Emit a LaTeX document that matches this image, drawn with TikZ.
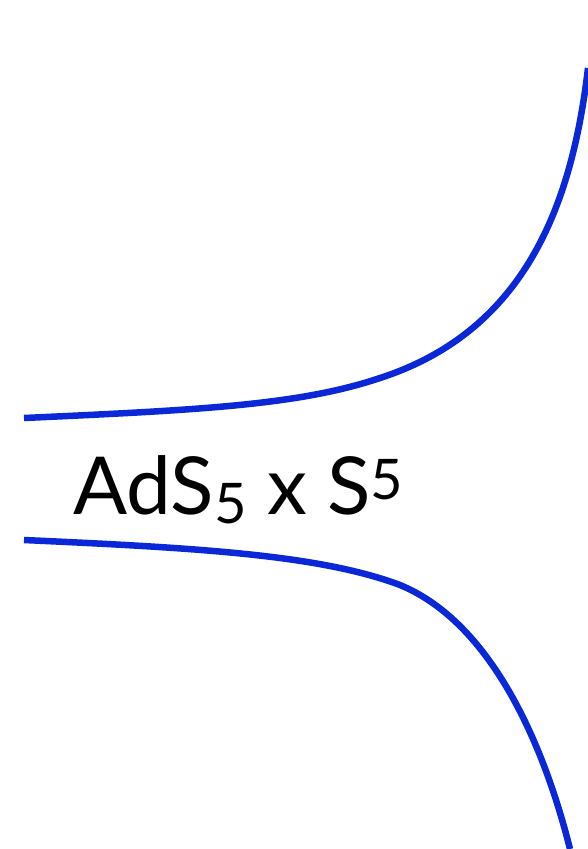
\documentclass[tikz,border=0pt]{standalone}
\usepackage{fontspec}
\setmainfont{Lato}
\definecolor{curveblue}{HTML}{0A28D8}
\begin{document}
\begin{tikzpicture}[x=1pt,y=-1pt,
  curve/.style={draw=curveblue,line width=6.5pt},
  label/.style={inner sep=0pt,anchor=base west,font=\fontsize{80}{90}\selectfont}]
\useasboundingbox (0,0) rectangle (588,849);
\coordinate (u0) at (24,418);
\coordinate (u1) at (380,378);
\coordinate (u2) at (588,68);
\coordinate (l0) at (24,540);
\coordinate (l1) at (400,585);
\coordinate (l2) at (570,849);
\draw[curve] (u0) .. controls (200,410) and (300,405) .. (u1)
  .. controls (525,331) and (572,205) .. (u2);
\draw[curve] (l0) .. controls (200,548) and (320,555) .. (l1)
  .. controls (485,620) and (540,730) .. (l2);
\node[label] (t) at (73,514) {AdS\raisebox{-9pt}{\fontsize{56}{60}\selectfont 5} x S\raisebox{15pt}{\fontsize{56}{60}\selectfont 5}};
\end{tikzpicture}
\end{document}
